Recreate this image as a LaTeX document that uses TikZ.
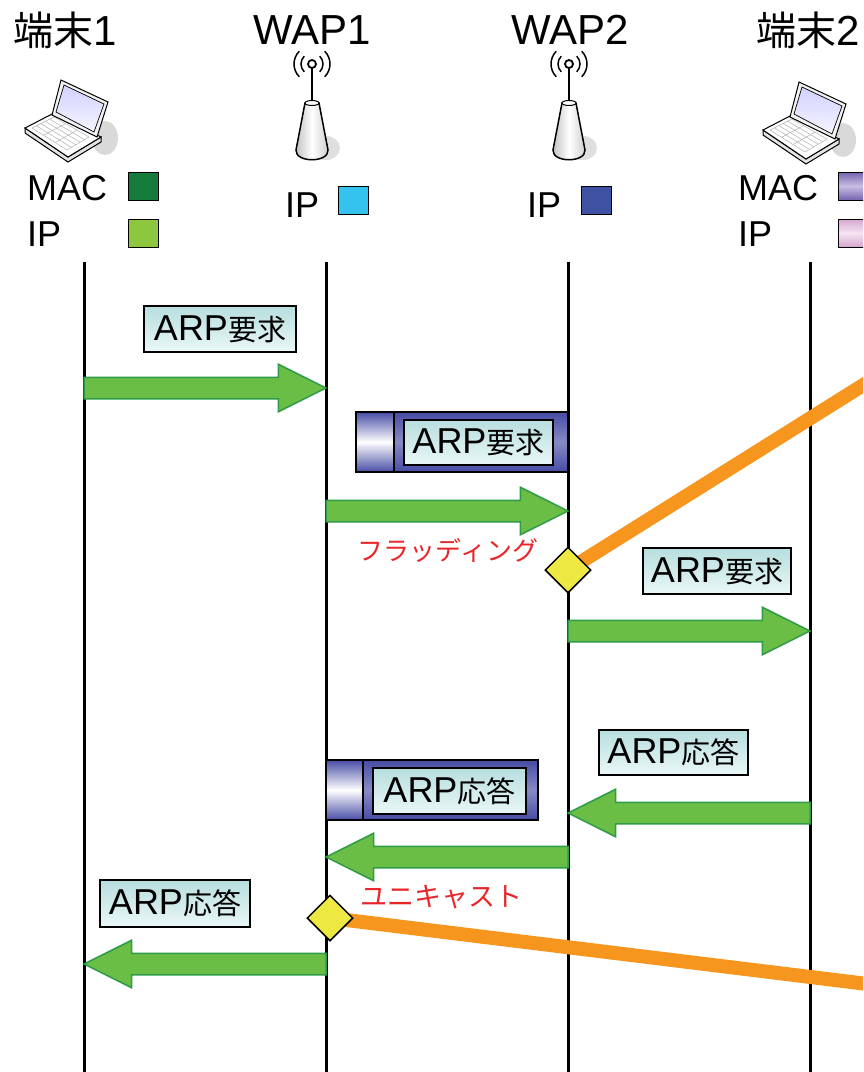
\documentclass[tikz,border=0pt]{standalone}
\usepackage{fontspec}
\setmainfont{Liberation Sans}
\newfontfamily\jpfont{Noto Sans CJK JP}
\usetikzlibrary{shapes.arrows,shapes.geometric,calc}
\definecolor{arrgreen}{HTML}{6ABD45}
\definecolor{arredge}{HTML}{2E9B48}
\definecolor{flowor}{HTML}{F7961E}
\definecolor{pktblue}{HTML}{474CA5}
\definecolor{lbltop}{HTML}{B8DEDE}
\definecolor{lblbot}{HTML}{EAF7F7}
\definecolor{diayel}{HTML}{EEE843}
\definecolor{redtxt}{HTML}{E8262A}
\definecolor{macgreen}{HTML}{177A3D}
\definecolor{ipgreen}{HTML}{8DC63F}
\definecolor{ipcyan}{HTML}{33C3EE}
\definecolor{ipblue}{HTML}{3F51A2}
\definecolor{macpurple}{HTML}{7463AE}
\definecolor{macpurplelt}{HTML}{C9BDE3}
\definecolor{ippink}{HTML}{D6A6CF}
\definecolor{ippinklt}{HTML}{F6E4F1}
\newcommand{\jp}[2]{{\jpfont\fontsize{#1}{#1}\selectfont #2}}
\newcommand{\lat}[2]{{\fontsize{#1}{#1}\selectfont #2}}
\tikzset{
  laptop/.pic={
    \fill[gray!30] (80,58) ellipse (13 and 17);
    \draw[fill=gray!20,line width=1] (0,48) -- (0,53) -- (43,82) -- (76,62) -- (76,57) -- (43,77) -- cycle;
    \draw[fill=white,line width=1] (0,48) -- (29,33) -- (76,57) -- (43,77) -- cycle;
    \coordinate (k1) at (7,48); \coordinate (k2) at (29,37);
    \coordinate (k3) at (64,57); \coordinate (k4) at (42,70);
    \foreach \t in {0,0.2,0.4,0.6,0.8,1} \draw[gray!60,line width=.5] ($(k1)!\t!(k2)$) -- ($(k4)!\t!(k3)$);
    \foreach \t in {0,0.33,0.66,1} \draw[gray!60,line width=.5] ($(k1)!\t!(k4)$) -- ($(k2)!\t!(k3)$);
    \draw[fill=gray!10,line width=1] (27,35) -- (36,0) -- (83,22) -- (72,57) -- cycle;
    \draw[top color=blue!18,bottom color=blue!4,line width=.7] (31,32) -- (39,5) -- (79,24) -- (69,52) -- cycle;
  },
  wap/.pic={
    \fill[gray!25] (14,148) ellipse (14 and 12);
    \draw[line width=2.5] (0,64) -- (0,102);
    \draw[line width=1.5,left color=gray!50,right color=gray!40,middle color=white]
      (-7,103) -- (-16,150) .. controls (-17,163) and (17,163) .. (16,150) -- (7,103) -- cycle;
    \draw[line width=1,fill=white] (0,103) ellipse (7 and 2.5);
    \draw[line width=1.8,fill=white] (0,64) circle (4);
    \foreach \r in {11,18} {
      \draw[line width=1.5] (0,64) ++(45:\r) arc (45:-45:\r);
      \draw[line width=1.5] (0,64) ++(135:\r) arc (135:225:\r);
    }
  }
}
\begin{document}
\begin{tikzpicture}[x=1pt,y=-1pt,
    lifeline/.style={line width=3},
    title/.style={anchor=base,inner sep=0},
    legend/.style={anchor=base west,inner sep=0,font=\fontsize{36}{36}\selectfont},
    legsq/.style={draw=black,line width=1,minimum width=30,minimum height=28,inner sep=0},
    garrow/.style={single arrow,draw=arredge,fill=arrgreen,line width=1.5,inner xsep=0,inner ysep=10,
      single arrow head extend=13,single arrow tip angle=53,minimum height=242,outer sep=0,anchor=tip},
    larrow/.style={garrow,shape border rotate=180},
    lbl/.style={draw=black,line width=1.5,top color=lbltop,bottom color=lblbot,inner sep=0,
      minimum width=150,minimum height=46},
    pkthead/.style={draw=black,line width=1.5,top color=pktblue,bottom color=pktblue,middle color=white,
      inner sep=0,minimum height=60},
    pktbody/.style={draw=black,line width=1.5,top color=pktblue,bottom color=pktblue,middle color=pktblue!65!white,
      inner sep=0,minimum height=60},
    diam/.style={diamond,draw=black,line width=1.5,fill=diayel,minimum width=46,minimum height=46,inner sep=0},
    flow/.style={flowor,line width=14},
    note/.style={text=redtxt,inner sep=0}]
  \useasboundingbox (0,0) rectangle (863,1072);
  \clip (0,0) rectangle (863,1072);

  \node(t1)[title] at (65,45){\jp{40}{端末}\lat{42}{1}};
  \node(wap1)[title] at (312,44){\lat{42}{WAP1}};
  \node(wap2)[title] at (570,44){\lat{42}{WAP2}};
  \node(t2)[title] at (808,45){\jp{40}{端末}\lat{42}{2}};

  \pic at (25,80) {laptop};
  \pic at (763,82) {laptop};
  \pic at (312,0) {wap};
  \pic at (569,0) {wap};

  \node(mac1)[legend] at (27,200){MAC};
  \node(ip1)[legend] at (27,246){IP};
  \node(mac1sq)[legsq,fill=macgreen] at (143,186){};
  \node(ip1sq)[legsq,fill=ipgreen] at (143,233){};
  \node(ipw1)[legend] at (285,217){IP};
  \node(ipw1sq)[legsq,fill=ipcyan] at (353.5,200.5){};
  \node(ipw2)[legend] at (527,217){IP};
  \node(ipw2sq)[legsq,fill=ipblue] at (596.5,200.5){};
  \node(mac2)[legend] at (738,200){MAC};
  \node(ip2)[legend] at (738,246){IP};
  \node(mac2sq)[legsq,top color=macpurple,bottom color=macpurple,middle color=macpurplelt] at (853,186){};
  \node(ip2sq)[legsq,top color=ippink,bottom color=ippink,middle color=ippinklt] at (853,233){};

  \foreach \n/\x in {1/84,2/326,3/568,4/810}{
    \coordinate (top\n) at (\x,262);
    \coordinate (bot\n) at (\x,1080);
    \draw[lifeline] (top\n) -- (bot\n);
  }

  \node(a1)[garrow] at (326,388){};
  \node(a2)[garrow] at (568,511){};
  \node(a3)[garrow] at (810,631){};
  \node(a4)[larrow] at (568,813){};
  \node(a5)[larrow] at (326,857){};
  \node(a6)[larrow] at (84,964){};

  \node(req1)[lbl,minimum width=152] at (220,329){\lat{36}{ARP}\jp{29}{要求}};
  \node(f1h)[pkthead,minimum width=38] at (375,442){};
  \node(f1b)[pktbody,minimum width=174] at (481,442){};
  \node(req2)[lbl,minimum width=149,minimum height=45] at (478.5,442.5){\lat{36}{ARP}\jp{29}{要求}};
  \node(req3)[lbl,minimum width=148] at (717,571){\lat{36}{ARP}\jp{29}{要求}};
  \node(res1)[lbl,minimum width=149,minimum height=45] at (673.5,752.5){\lat{36}{ARP}\jp{29}{応答}};
  \node(f2h)[pkthead,minimum width=37] at (344.5,790){};
  \node(f2b)[pktbody,minimum width=175] at (450.5,790){};
  \node(res2)[lbl,minimum width=153] at (449.5,791){\lat{36}{ARP}\jp{29}{応答}};
  \node(res3)[lbl,minimum height=47] at (175,903.5){\lat{36}{ARP}\jp{29}{応答}};

  \node(flood)[note] at (448,550){\jp{26}{フラッディング}};
  \node(uni)[note] at (441,897){\jp{27}{ユニキャスト}};

  \coordinate (d1c) at (568,570);
  \coordinate (o1) at (900,362);
  \coordinate (d2c) at (330,918);
  \coordinate (o2) at (900,988);
  \draw[flow] (d1c) -- (o1);
  \draw[flow] (d2c) -- (o2);
  \node(d1)[diam] at (d1c){};
  \node(d2)[diam] at (d2c){};
\end{tikzpicture}
\end{document}
